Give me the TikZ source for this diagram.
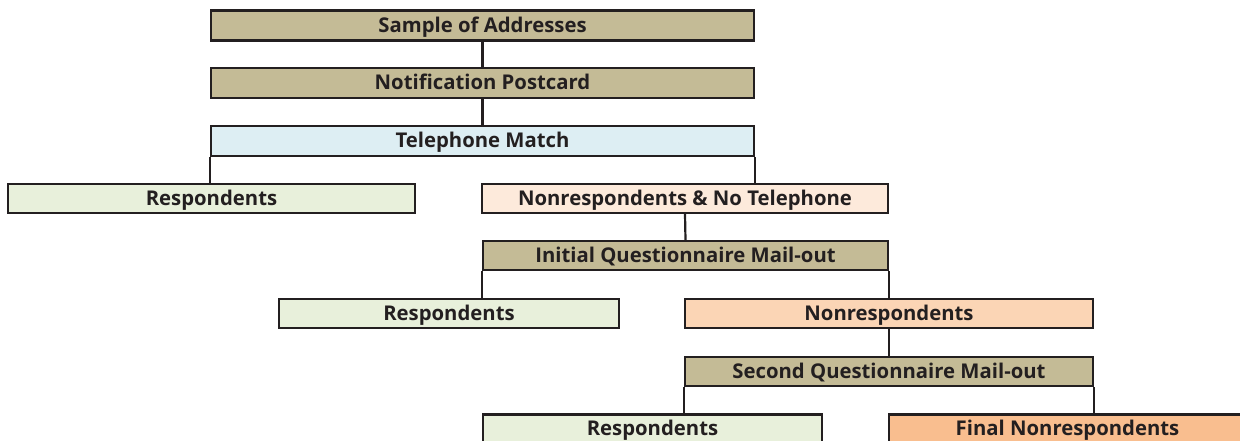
\documentclass[tikz,border=0pt]{standalone}
\usepackage{fontspec}
\setmainfont{Open Sans}
\definecolor{linec}{HTML}{231F20}
\definecolor{textc}{HTML}{231F20}
\definecolor{tan}{HTML}{C4BB96}
\definecolor{lblue}{HTML}{DDEEF3}
\definecolor{lgreen}{HTML}{E8F0DB}
\definecolor{peach}{HTML}{FDEADB}
\definecolor{peachb}{HTML}{FBD5B5}
\definecolor{orangeb}{HTML}{F9BE8F}
\begin{document}
\begin{tikzpicture}[x=1pt,y=-1pt,
  box/.style={draw=linec, line width=2.2pt, inner sep=0pt, minimum height=29pt,
    font=\bfseries\fontsize{20.3}{23}\selectfont, text=textc, text height=17pt, text depth=3.5pt},
  conn/.style={draw=linec, line width=2.2pt}]
\useasboundingbox (0,0) rectangle (1240,440);
\clip (0,0) rectangle (1240,440);
\node[box, fill=tan, minimum width=543pt, minimum height=30pt] (s1) at (482.5,25.5) {Sample of Addresses};
\node[box, fill=tan, minimum width=543pt, minimum height=30pt] (s2) at (482.5,83) {Notification Postcard};
\node[box, fill=lblue, minimum width=543pt, minimum height=30pt] (tel) at (482.5,141) {Telephone Match};
\node[box, fill=lgreen, minimum width=407pt] (r1) at (211.5,198.5) {Respondents};
\node[box, fill=peach, minimum width=406pt] (nrnt) at (685,198.5) {Nonrespondents \& No Telephone};
\node[box, fill=tan, minimum width=405pt] (iq) at (685.5,255.5) {Initial Questionnaire Mail-out};
\node[box, fill=lgreen, minimum width=340pt] (r2) at (449,313.5) {Respondents};
\node[box, fill=peachb, minimum width=408pt] (nr) at (889,313.5) {Nonrespondents};
\node[box, fill=tan, minimum width=408pt] (sq) at (889,371.5) {Second Questionnaire Mail-out};
\node[box, fill=lgreen, minimum width=339pt] (r3) at (652.5,429) {Respondents};
\node[box, fill=orangeb, minimum width=357pt] (fnr) at (1067.5,429) {Final Nonrespondents};
\draw[conn] (s1.south) -- (s2.north);
\draw[conn] (s2.south) -- (tel.north);
\draw[conn] (tel.south west) -- (tel.south west |- r1.north);
\draw[conn] (tel.south east) -- (tel.south east |- nrnt.north);
\draw[conn] (nrnt.south) -- (iq.north);
\draw[conn] (iq.south west) -- (iq.south west |- r2.north);
\draw[conn] (iq.south east) -- (iq.south east |- nr.north);
\draw[conn] (nr.south) -- (sq.north);
\draw[conn] (sq.south west) -- (sq.south west |- r3.north);
\draw[conn] (sq.south east) -- (sq.south east |- fnr.north);
\end{tikzpicture}
\end{document}
